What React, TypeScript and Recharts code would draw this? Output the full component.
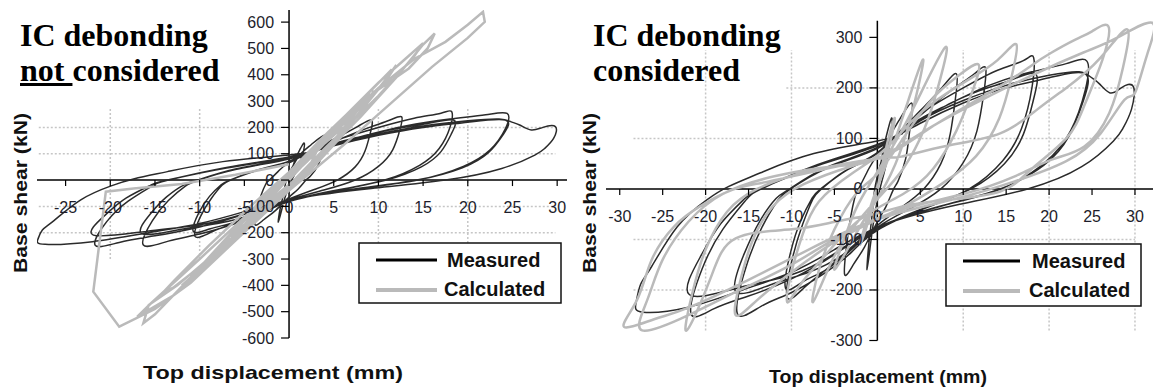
import { LineChart, Line, XAxis, YAxis, ReferenceLine, ReferenceDot } from "recharts"

// Measured response of the tested wall (same test in both panels) [mm, kN]
const measured = [
  [0, 0], [0.6, 70], [1.2, 115], [1.7, 140], [1.5, 95], [0.9, 40], [0.3, 0], [-0.3, -50], [-0.8, -110], [-1.2, -160], [-1.0, -110], [-0.6, -50], [-0.3, 0], [0.3, 45],
  [1.2, 95], [2.5, 135], [4, 170], [3.8, 120], [3.3, 60], [2.4, 15], [1.9, 0], [1, -35], [0, -65], [-1.5, -115], [-2.8, -150], [-3.8, -170], [-3.6, -115], [-3.1, -55], [-2.6, -15], [-2.2, 0], [-1, 40], [0, 65],
  [2.5, 110], [5, 155], [7.5, 200], [9.2, 228], [9.1, 180], [8.5, 110], [7.4, 50], [5.4, 0], [2.9, -35], [0, -72], [-3, -115], [-6, -160], [-8.5, -195], [-10.5, -215], [-9.9, -138], [-8.7, -70], [-7.5, -20], [-6.5, 0], [-3.8, 35], [0, 70],
  [3, 115], [6, 160], [9, 200], [11.3, 228], [12.6, 240], [12.4, 190], [11.6, 115], [10, 52], [7.4, 0], [3.9, -38], [0, -76], [-3, -120], [-6, -160], [-8.8, -185], [-10.7, -196], [-10.1, -125], [-8.9, -62], [-7.6, -18], [-6.6, 0], [-3.5, 38], [0, 72],
  [3, 120], [6, 160], [10, 200], [14, 235], [17, 254], [18.2, 260], [18, 200], [16.8, 120], [14.6, 56], [10.7, 0], [5.6, -38], [0, -82], [-3, -125], [-6, -165], [-10, -205], [-13.5, -232], [-16.3, -247], [-15.3, -155], [-13.5, -78], [-11.6, -23], [-10.1, 0], [-6, 40], [0, 80],
  [4, 125], [8, 165], [12, 195], [15.5, 215], [18.4, 228], [18.2, 178], [17, 108], [14.8, 50], [10.9, 0], [5.7, -36], [0, -80], [-4, -130], [-8, -165], [-12.5, -190], [-16.5, -203], [-15.5, -128], [-13.7, -64], [-11.8, -19], [-10.2, 0], [-6, 42], [0, 82],
  [4, 128], [8, 165], [13, 205], [18, 232], [22, 248], [24.4, 253], [24.2, 195], [22.5, 115], [19.5, 52], [14.4, 0], [7.5, -34], [0, -78], [-5, -130], [-10, -178], [-15, -212], [-19, -237], [-21.7, -247], [-20.4, -158], [-18, -80], [-15.4, -24], [-13.5, 0], [-7, 48], [0, 88],
  [5, 130], [10, 170], [15, 200], [20, 220], [24.2, 228], [24, 175], [22.3, 104], [19.4, 47], [14.3, 0], [7.5, -33], [0, -76], [-5, -128], [-10, -170], [-16, -195], [-21.9, -209], [-20.6, -134], [-18.2, -68], [-15.5, -20], [-13.6, 0], [-7, 46], [0, 86],
  [5, 135], [10, 175], [15, 205], [20, 225], [23.5, 232], [24.8, 222], [25.8, 209], [27.1, 190], [28.4, 200], [29.8, 203], [29.6, 158], [28.6, 120], [27.5, 95], [23.8, 44], [17.5, 0], [9.2, -32], [0.9, -70], [-5, -120], [-10, -165], [-15.7, -200], [-22, -234], [-27.3, -244], [-28.1, -225], [-27.6, -190], [-26.3, -154], [-23.3, -75], [-19.9, -22], [-17.3, 5], [-13.6, 32], [-7.4, 70], [0, 95], [3, 110],
]

// Calculated, IC debonding not considered
const calcNoDebond = [
  [0, 0], [1.5, 55], [3, 105], [2.4, 60], [1, 10], [-1, -45], [-2.5, -95], [-1.8, -60], [-0.5, -10],
  [2, 70], [4, 140], [6, 200], [5.2, 150], [3, 60], [0, -30], [-3, -110], [-5.5, -185], [-6.5, -220], [-5.6, -170], [-3, -70], [0, 20],
  [3, 110], [6, 210], [8.8, 300], [9.5, 340], [8.6, 290], [6, 170], [3, 60], [0, -40], [-4, -160], [-8, -280], [-10.3, -360], [-9.5, -320], [-7, -220], [-3, -80], [0, 20],
  [3, 120], [6, 220], [8.5, 310], [9, 330], [7.8, 270], [5, 150], [1, 10], [-3, -120], [-7, -250], [-9.5, -340], [-8.6, -300], [-5, -170], [-1, -20], [1, 40],
  [4, 150], [8, 280], [10.9, 380], [12, 437], [11, 390], [8, 260], [4, 110], [0, -30], [-5, -180], [-10, -330], [-13, -410], [-14, -424], [-12.8, -380], [-9, -250], [-4, -90], [0, 30],
  [4, 170], [8, 300], [11.5, 420], [10.6, 370], [7, 220], [2, 40], [-4, -150], [-9, -310], [-12, -400], [-11, -370], [-7, -220], [-2, -40], [2, 90],
  [4, 160], [9, 320], [13.4, 424], [15.5, 500], [16.3, 557], [15, 515], [12, 390], [8, 240], [3, 70], [-2, -80], [-8, -270], [-12.5, -400], [-15.7, -475], [-16.3, -544], [-15, -510], [-11, -370], [-6, -190], [0, 20],
  [5, 200], [10, 370], [13, 460], [15, 520], [14, 470], [10, 320], [4, 120], [-2, -90], [-8, -290], [-13, -440], [-17, -520], [-15.5, -470], [-10, -300], [-4, -110], [0, 30],
  [5, 190], [10, 350], [14, 460], [17.5, 525], [20, 590], [21.7, 639], [21.9, 601], [20, 540], [16, 430], [11, 280], [6, 130], [0, -40], [-6, -230], [-11, -390], [-15, -490], [-19, -557], [-21.9, -424], [-20.5, -44], [-17.4, -32], [-12, -15], [-6, 20], [0, 60],
]

// Calculated, IC debonding considered
const calcDebond = [
  [0, 0], [1, 80], [2, 140], [1.6, 100], [0.5, 30], [-0.8, -50], [-2, -110], [-1.4, -70], [-0.3, -10],
  [1.5, 70], [3.5, 170], [5.3, 256], [4.6, 190], [3, 90], [1, 10], [-1.5, -60], [-3.5, -120], [-5, -160], [-4.2, -115], [-2.5, -40], [-0.5, 20],
  [2, 90], [4.5, 170], [7.9, 280], [7.2, 210], [5.5, 120], [3, 40], [0, -20], [-3, -80], [-5.5, -150], [-7.5, -224], [-6.8, -160], [-5, -80], [-2.5, -10], [0, 30],
  [3, 100], [6.5, 180], [9.5, 225], [11.8, 246], [11, 190], [9.2, 115], [6.5, 40], [3, -10], [-2, -60], [-6, -130], [-9, -190], [-10.5, -224], [-10, -165], [-8.7, -90], [-6.8, -25], [-3, 30], [1, 80],
  [5, 150], [10, 210], [14, 255], [16.2, 286], [15.6, 220], [14.2, 140], [11.5, 65], [7.5, 10], [2.5, -40], [-4, -95], [-10, -165], [-14, -220], [-16.5, -250], [-16, -185], [-14.6, -105], [-12.2, -35], [-8.5, 10], [-3, 45], [2, 75],
  [7, 130], [14, 200], [18, 245], [20.3, 270], [23, 295], [25, 312], [26.9, 322], [26.2, 255], [24.1, 165], [22, 100], [18, 40], [14.3, -5], [7.9, -22], [2.8, -35], [0, -48], [-4.9, -65], [-10, -80], [-16.5, -98], [-19.5, -180], [-22.2, -280], [-21.6, -210], [-20, -120], [-17.5, -45], [-14, 0], [-8, 35], [0, 60],
  [2.8, 64], [8, 85], [14.3, 110], [18.6, 157], [22, 200], [26, 260], [29.1, 316], [28.6, 240], [27, 150], [24.1, 84], [20.3, 58], [16, 25], [10, -10], [3, -40], [-4, -90], [-10, -150], [-16, -200], [-22, -250], [-27.4, -280], [-26.8, -220], [-25, -140], [-22, -65], [-18, -10], [-12, 25], [-5, 45], [0, 60],
  [6, 120], [12, 175], [18, 225], [24, 270], [28, 300], [32, 329], [31.4, 265], [30, 190], [28.8, 177], [26, 110], [22, 55], [16, 15], [9, -20], [0, -60], [-8, -120], [-15, -180], [-22, -235], [-26, -258], [-29.5, -273], [-28, -220], [-26.3, -141], [-23.7, -75], [-20.7, -35], [-16.9, -2], [-12.6, 15], [-4.9, 44], [0, 60],
]

const leftXTicks = [-25, -20, -15, -10, -5, 0, 5, 10, 15, 20, 25, 30]
const leftYTicks = [-600, -500, -400, -300, -200, -100, 0, 100, 200, 300, 400, 500, 600]
const rightXTicks = [-30, -25, -20, -15, -10, -5, 0, 5, 10, 15, 20, 25, 30]
const rightYTicks = [-300, -200, -100, 0, 100, 200, 300]

const gridY = [-200, -100, 100, 200]
const leftGridX = [-20, -10, 10, 20]
const rightGridX = [-20, -10, 10, 20, 30]

const toPts = (arr: number[][]) => arr.map(([x, y]) => ({ x, y }))

const MEAS = "#2b2b2b"
const CALC = "#bababa"
const GRID = "#c6c6c6"
const TXT = "#1d1d2b"

type PanelProps = {
  left: number
  width: number
  margin: { top: number; right: number; bottom: number; left: number }
  xDomain: [number, number]
  yDomain: [number, number]
  xTicks: number[]
  yTicks: number[]
  gridX: number[]
  gridXSpan: [number, number]
  gridYSpan: [number, number]
  hGridTop?: [number, number]
  calc: number[][]
  calcCurve: "linear" | "natural"
}

function Panel(p: PanelProps) {
  const measPts = toPts(measured)
  const calcPts = toPts(p.calc)
  return (
    <div style={{ position: "absolute", left: p.left, top: 0 }}>
      <LineChart width={p.width} height={391} margin={p.margin}>
        <XAxis type="number" dataKey="x" domain={p.xDomain} hide allowDataOverflow />
        <YAxis type="number" domain={p.yDomain} hide allowDataOverflow />
        {gridY.map((v) => {
          const span = v === 200 && p.hGridTop ? p.hGridTop : p.gridYSpan
          return (
            <ReferenceLine key={"gy" + v} segment={[{ x: span[0], y: v }, { x: span[1], y: v }]}
              stroke={GRID} strokeWidth={1.5} strokeDasharray="2 2" />
          )
        })}
        {p.gridX.map((v) => (
          <ReferenceLine key={"gx" + v} segment={[{ x: v, y: p.gridXSpan[0] }, { x: v, y: p.gridXSpan[1] }]}
            stroke={GRID} strokeWidth={1.5} strokeDasharray="2 2" />
        ))}
        <ReferenceLine segment={[{ x: p.xDomain[0], y: 0 }, { x: p.xDomain[1], y: 0 }]} stroke="#000" strokeWidth={1.5} />
        <ReferenceLine segment={[{ x: 0, y: p.yDomain[0] }, { x: 0, y: p.yDomain[1] }]} stroke="#000" strokeWidth={1.5} />
        <Line data={measPts} dataKey="y" type="natural" stroke={MEAS} strokeWidth={1.5}
          dot={false} activeDot={false} isAnimationActive={false} />
        <Line data={calcPts} dataKey="y" type={p.calcCurve} stroke={CALC} strokeWidth={2.5}
          dot={false} activeDot={false} isAnimationActive={false} />
        {p.xTicks.map((v) => (
          <ReferenceDot key={"xt" + v} x={v} y={0} r={0}
            shape={(d: any) => (
              <g>
                <line x1={d.cx} y1={d.cy} x2={d.cx} y2={d.cy + 6} stroke="#000" strokeWidth={1.2} />
                <text x={d.cx} y={d.cy + 33} textAnchor="middle" fontSize={16} fill={TXT}
                  fontFamily="'Liberation Sans', Arial, sans-serif">{v}</text>
              </g>
            )} />
        ))}
        {p.yTicks.map((v) => (
          <ReferenceDot key={"yt" + v} x={0} y={v} r={0}
            shape={(d: any) => (
              <g>
                <line x1={d.cx - 8} y1={d.cy} x2={d.cx} y2={d.cy} stroke="#000" strokeWidth={1.2} />
                <text x={d.cx - 15} y={d.cy + 5.5} textAnchor="end" fontSize={16} fill={TXT}
                  fontFamily="'Liberation Sans', Arial, sans-serif">{v}</text>
              </g>
            )} />
        ))}
      </LineChart>
    </div>
  )
}

const titleStyle: React.CSSProperties = {
  position: "absolute",
  top: 18,
  fontFamily: "'Liberation Serif', 'Times New Roman', serif",
  fontWeight: "bold",
  fontSize: 32,
  lineHeight: "35px",
  color: "#000",
  whiteSpace: "nowrap",
}

const sans = "'Liberation Sans', Arial, sans-serif"

function LegendBox({ x, y, w, h, lineX1, lineX2, textX }: { x: number; y: number; w: number; h: number; lineX1: number; lineX2: number; textX: number }) {
  return (
    <g>
      <rect x={x} y={y} width={w} height={h} fill="#fff" stroke="#111" strokeWidth={1.5} />
      <line x1={lineX1} x2={lineX2} y1={y + 17} y2={y + 17} stroke="#000" strokeWidth={3} />
      <line x1={lineX1} x2={lineX2} y1={y + 47} y2={y + 47} stroke={CALC} strokeWidth={4} />
      <text x={textX} y={y + 24} fontSize={20} fontWeight="bold" fontFamily={sans} fill="#111">Measured</text>
      <text x={textX - 3} y={y + 53} fontSize={20} fontWeight="bold" fontFamily={sans} fill="#111">Calculated</text>
    </g>
  )
}

export default function App() {
  return (
    <div style={{ position: "absolute", left: 0, top: 0, width: 1154, height: 391, background: "#fff", overflow: "hidden" }}>
      <Panel left={0} width={580} margin={{ top: 10, right: 13, bottom: 53, left: 37 }}
        xDomain={[-28.2, 31.1]} yDomain={[-600, 646]} xTicks={leftXTicks} yTicks={leftYTicks}
        gridX={leftGridX} gridXSpan={[-300, 270]} gridYSpan={[-28, 29.8]} calc={calcNoDebond} calcCurve="linear" />
      <Panel left={580} width={574} margin={{ top: 20.7, right: 1, bottom: 50.5, left: 26 }}
        xDomain={[-31.6, 32.1]} yDomain={[-300, 333]} xTicks={rightXTicks} yTicks={rightYTicks}
        gridX={rightGridX} gridXSpan={[-280, 275]} gridYSpan={[-28.4, 30]} hGridTop={[-10.6, 30]}
        calc={calcDebond} calcCurve="natural" />

      <svg width={1154} height={391} style={{ position: "absolute", left: 0, top: 0, pointerEvents: "none" }}>
        <LegendBox x={359} y={243} w={202} h={60} lineX1={376} lineX2={437} textX={447} />
        <LegendBox x={946} y={244} w={195} h={62} lineX1={963} lineX2={1020} textX={1032} />
        <text x={143} y={379} fontSize={19} fontWeight="bold" fontFamily={sans} fill="#111"
          textLength={260} lengthAdjust="spacingAndGlyphs">Top displacement (mm)</text>
        <text x={769} y={383} fontSize={18} fontWeight="bold" fontFamily={sans} fill="#111"
          textLength={218} lengthAdjust="spacingAndGlyphs">Top displacement (mm)</text>
        <text transform="translate(27,193) rotate(-90)" textAnchor="middle" fontSize={19} fontWeight="bold"
          fontFamily={sans} fill="#111" textLength={160} lengthAdjust="spacingAndGlyphs">Base shear (kN)</text>
        <text transform="translate(596,193) rotate(-90)" textAnchor="middle" fontSize={19} fontWeight="bold"
          fontFamily={sans} fill="#111" textLength={160} lengthAdjust="spacingAndGlyphs">Base shear (kN)</text>
      </svg>

      <div style={{ ...titleStyle, left: 20 }}>
        IC debonding<br />
        <span style={{ textDecoration: "underline" }}>not </span>considered
      </div>
      <div style={{ ...titleStyle, left: 593 }}>
        IC debonding<br />
        considered
      </div>
    </div>
  )
}
